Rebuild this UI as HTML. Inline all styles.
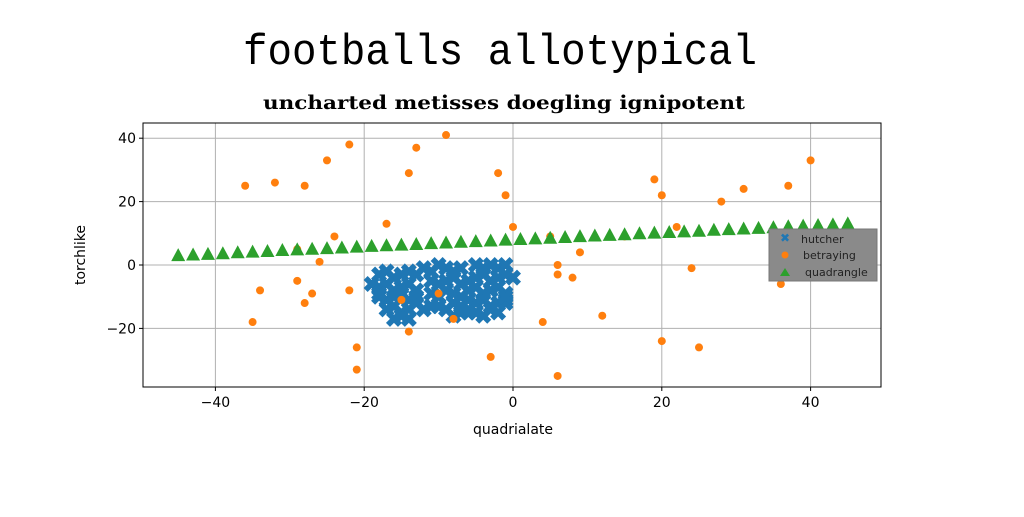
<!DOCTYPE html>
<html><head><meta charset="utf-8"><style>
body{margin:0;background:#fff;width:1024px;height:512px;overflow:hidden}
</style></head><body>
<svg id="chart" width="1024" height="512" xmlns="http://www.w3.org/2000/svg" font-family="DejaVu Sans, Liberation Sans, sans-serif">
<text x="243" y="64" textLength="514" lengthAdjust="spacingAndGlyphs" font-family="Liberation Mono, DejaVu Sans Mono, monospace" font-size="44">footballs allotypical</text>
<text x="263" y="109" textLength="482" lengthAdjust="spacingAndGlyphs" font-family="DejaVu Serif, Liberation Serif, serif" font-weight="bold" font-size="19">uncharted metisses doegling ignipotent</text>
<g id="grid"></g><g id="marks"></g><g id="axes"></g>
<text x="513" y="434" text-anchor="middle" font-size="14">quadrialate</text>
<text transform="translate(85,255) rotate(-90)" text-anchor="middle" font-size="14">torchlike</text>
<g>
<rect x="769" y="229" width="108" height="52" fill="#8a8a8a" stroke="#777"/>
<text x="785" y="242" text-anchor="middle" font-size="12" fill="#1f77b4" font-weight="bold">✖</text>
<text x="801" y="243" font-size="11" fill="#222">hutcher</text>
<circle cx="785" cy="255" r="3.5" fill="#ff7f0e"/>
<text x="803" y="259" font-size="11" fill="#222">betraying</text>
<polygon points="785,268 790,276 780,276" fill="#2ca02c"/>
<text x="805" y="276" font-size="11" fill="#222">quadrangle</text>
</g>
</svg>
<script>
const xTicks=[-40,-20,0,20,40];
const yTicks=[-20,0,20,40];
const hutcherX=[-18,-17,-16,-15,-14,-13,-18,-17,-16,-15,-14,-13,-18,-17,-16,-15,-14,-13,-17,-16,-15,-14,-13,-16,-15,-14,-12,-11,-10,-9,-8,-7,-11,-10,-9,-8,-7,-6,-11,-10,-9,-8,-7,-6,-10,-9,-8,-7,-6,-5,-4,-3,-2,-1,-5,-4,-3,-2,-1,0,-6,-5,-4,-3,-2,-1,-5,-4,-3,-2,-1,-6,-5,-4,-3,-1,-8,-7,-12,-11,-19,-18,-2,-1];
const hutcherY=[-3,-2,-4,-3,-2,-3,-7,-6,-8,-7,-6,-8,-10,-11,-10,-9,-11,-10,-14,-13,-15,-14,-12,-17,-16,-17,-1,-2,0,-1,-2,-1,-5,-6,-5,-4,-6,-5,-9,-10,-8,-9,-10,-11,-13,-14,-12,-13,-15,0,-1,0,-1,0,-4,-3,-5,-4,-3,-4,-8,-7,-9,-8,-7,-9,-12,-11,-13,-12,-11,-14,-15,-16,-14,-12,-16,-15,-14,-13,-6,-9,-15,-10];
const betX=[-36,-32,-28,-25,-22,-14,-13,-9,-2,-1,0,19,20,28,31,37,40,-17,-24,-29,-26,-29,-28,-27,-34,-35,-22,-21,-21,-15,-14,-10,-8,-3,4,5,6,6,8,9,12,15,20,22,24,25,36,6];
const betY=[25,26,25,33,38,29,37,41,29,22,12,27,22,20,24,25,33,13,9,5,1,-5,-12,-9,-8,-18,-8,-26,-33,-11,-21,-9,-17,-29,-18,9,0,-3,-4,4,-16,9,-24,12,-1,-26,-6,-35];
const quadX=[-45,-43,-41,-39,-37,-35,-33,-31,-29,-27,-25,-23,-21,-19,-17,-15,-13,-11,-9,-7,-5,-3,-1,1,3,5,7,9,11,13,15,17,19,21,23,25,27,29,31,33,35,37,39,41,43,45];
const quadY=[2.8,3,3.2,3.4,3.7,3.9,4.1,4.4,4.6,4.8,5,5.2,5.5,5.7,5.9,6.1,6.3,6.6,6.8,7,7.2,7.4,7.7,7.9,8.1,8.3,8.5,8.8,9,9.2,9.4,9.7,9.9,10.1,10.3,10.5,10.8,11,11.2,11.4,11.6,11.9,12.1,12.3,12.5,12.8];
const L=143,R=881,T=123,B=387;
const sx=v=>513+v*7.44, sy=v=>265-v*3.17;
const NS='http://www.w3.org/2000/svg';
function mk(tag,attrs,parent){const e=document.createElementNS(NS,tag);for(const k in attrs)e.setAttribute(k,attrs[k]);document.getElementById(parent).appendChild(e);return e;}
xTicks.forEach(t=>{
 const g=mk('line',{x1:sx(t),x2:sx(t),y1:T,y2:B,stroke:'#b0b0b0','stroke-width':1},'grid');
 
 
 const k=mk('line',{x1:sx(t),x2:sx(t),y1:B,y2:B+4,stroke:'#000'},'axes');
 
 
 const l=mk('text',{x:sx(t),y:B+20,'text-anchor':'middle','font-size':14},'axes');
 l.textContent=(t<0?'\u2212'+(-t):t);
 
 
});
yTicks.forEach(t=>{
 const g=mk('line',{x1:L,x2:R,y1:sy(t),y2:sy(t),stroke:'#b0b0b0','stroke-width':1},'grid');
 
 
 const k=mk('line',{x1:L-4,x2:L,y1:sy(t),y2:sy(t),stroke:'#000'},'axes');
 
 
 const l=mk('text',{x:L-7,y:sy(t)+5,'text-anchor':'end','font-size':14},'axes');
 l.textContent=(t<0?'\u2212'+(-t):t);
 
 
});
const fr=mk('rect',{x:L,y:T,width:R-L,height:B-T,fill:'none',stroke:'#000'},'axes');


hutcherX.forEach((x,i)=>{
 const cx=sx(x),cy=sy(hutcherY[i]);
 const p=mk('path',{d:`M${cx-8},${cy-4} L${cx-4},${cy-8} L${cx},${cy-4} L${cx+4},${cy-8} L${cx+8},${cy-4} L${cx+4},${cy} L${cx+8},${cy+4} L${cx+4},${cy+8} L${cx},${cy+4} L${cx-4},${cy+8} L${cx-8},${cy+4} L${cx-4},${cy} Z`,fill:'#1f77b4'},'marks');
 
 
});
betX.forEach((x,i)=>{
 const c=mk('circle',{cx:sx(x),cy:sy(betY[i]),r:4,fill:'#ff7f0e'},'marks');
 
 
});
quadX.forEach((x,i)=>{
 const cx=sx(x),cy=sy(quadY[i]);
 const p=mk('polygon',{points:`${cx},${cy-8} ${cx+7},${cy+5} ${cx-7},${cy+5}`,fill:'#2ca02c'},'marks');
 
 
});
</script>
</body></html>
